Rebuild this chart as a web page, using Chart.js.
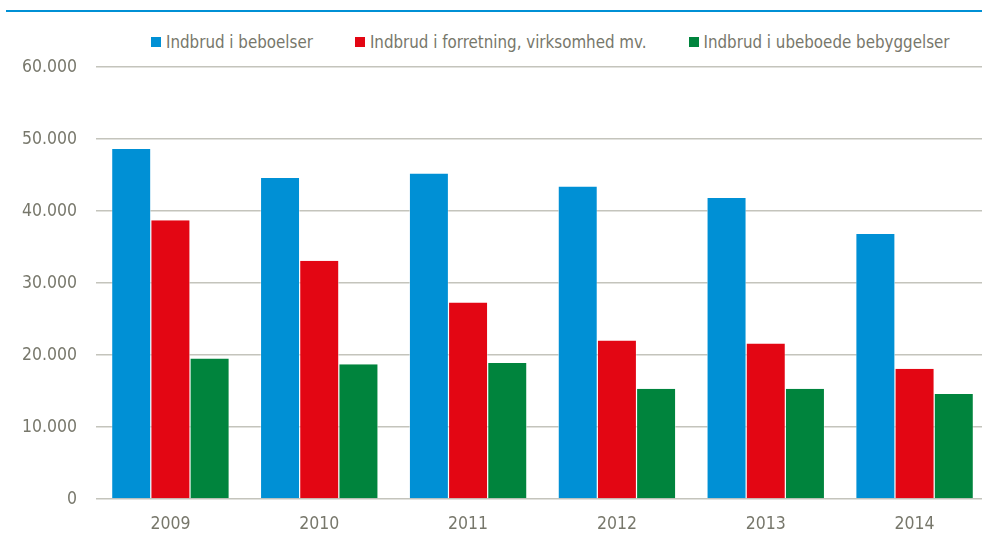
<!DOCTYPE html>
<html>
<head>
<meta charset="utf-8">
<script src="https://cdn.jsdelivr.net/npm/chart.js@4/dist/chart.umd.min.js"></script>
<style>
    html, body { margin: 0; padding: 0; background: #fff; overflow: hidden; }
    #wrap { position: relative; width: 982px; height: 542px; overflow: hidden; }
    #topLine { position: absolute; left: 6px; right: 0; top: 10px; height: 2px; background: #0090d5; }
    #legend { position: absolute; left: 151px; top: 32px; display: flex; align-items: center;
              font-family: 'DejaVu Sans Condensed', 'Liberation Sans Narrow', sans-serif;
              font-size: 16.8px; color: #77776b; white-space: nowrap; }
    #legend .item { display: flex; align-items: center; margin-right: 42px; }
    #legend .box { width: 10px; height: 10px; margin-right: 5px; }
    canvas { position: absolute; left: 0; top: 0; }
</style>
</head>
<body>
<div id="wrap">
    <div id="topLine"></div>
    <div id="legend"></div>
    <canvas id="burglaryChart" width="990" height="542"></canvas>
</div>
<script>
    // Data
    var years = ['2009', '2010', '2011', '2012', '2013', '2014'];
    var seriesNames = ['Indbrud i beboelser', 'Indbrud i forretning, virksomhed mv.', 'Indbrud i ubeboede bebyggelser'];
    var homes = [48600, 44600, 45200, 43400, 41800, 36800];
    var business = [38700, 33100, 27300, 22000, 21600, 18100];
    var unoccupied = [19500, 18700, 18900, 15300, 15300, 14600];
    var yTicks = [0, 10000, 20000, 30000, 40000, 50000, 60000];

    var colors = ['#0090d5', '#e30613', '#00843d'];
    var textColor = '#77776b';

    Chart.defaults.font.family = "'DejaVu Sans Condensed', 'Liberation Sans Narrow', sans-serif";
    Chart.defaults.color = textColor;

    function formatThousands(v) {
        return String(v).replace(/\B(?=(\d{3})+(?!\d))/g, '.');
    }

    function makeDataset(i, values) {
        return {
            label: seriesNames[i],
            data: values,
            backgroundColor: colors[i],
            borderColor: '#ffffff',
            borderWidth: { left: 0.6, right: 0.6, top: 0, bottom: 0 },
            borderSkipped: false,
            categoryPercentage: 0.79,
            barPercentage: 1
        };
    }

    var ctx = document.getElementById('burglaryChart').getContext('2d');
    var burglaryChart = new Chart(ctx, {
        type: 'bar',
        data: {
            labels: years,
            datasets: [makeDataset(0, homes), makeDataset(1, business), makeDataset(2, unoccupied)]
        },
        options: {
            responsive: false,
            animation: false,
            layout: { padding: { top: 67, right: 1, bottom: 0, left: 0 } },
            plugins: {
                legend: { display: false },
                tooltip: { enabled: false }
            },
            scales: {
                x: {
                    grid: { display: false, drawTicks: false },
                    border: { display: false },
                    afterFit: function (scale) { scale.height = 43; },
                    ticks: { padding: 15, font: { size: 17.5 }, color: textColor }
                },
                y: {
                    min: yTicks[0],
                    max: yTicks[yTicks.length - 1],
                    afterBuildTicks: function (scale) {
                        scale.ticks = yTicks.map(function (v) { return { value: v }; });
                    },
                    afterFit: function (scale) { scale.width = 96; },
                    grid: { color: '#c4c4bc', lineWidth: 1.5, drawTicks: false },
                    border: { display: false },
                    ticks: {
                        padding: 19,
                        font: { size: 17.5 },
                        color: textColor,
                        callback: function (v) { return formatThousands(v); }
                    }
                }
            }
        }
    });

    // HTML legend built from the datasets
    var legendEl = document.getElementById('legend');
    burglaryChart.data.datasets.forEach(function (ds) {
        var item = document.createElement('div');
        item.className = 'item';
        var box = document.createElement('span');
        box.className = 'box';
        box.style.background = ds.backgroundColor;
        var txt = document.createElement('span');
        txt.textContent = ds.label;
        item.appendChild(box);
        item.appendChild(txt);
        legendEl.appendChild(item);
    });
</script>
</body>
</html>
